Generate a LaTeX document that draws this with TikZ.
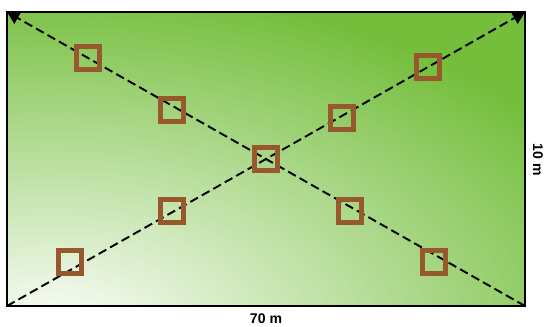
\documentclass[tikz,border=0pt]{standalone}
\usepackage{fontspec}
\setmainfont{Liberation Sans}
\usetikzlibrary{arrows.meta}

\definecolor{fieldgreen}{RGB}{116,190,60}
\definecolor{plotbrown}{RGB}{150,88,44}

\begin{document}
\begin{tikzpicture}[x=0.02cm, y=-0.02cm,
        plot/.style={draw=plotbrown, line width=2.8pt, minimum size=0.46cm, inner sep=0pt},
        diag/.style={dashed, dash pattern=on 5pt off 2.5pt, line width=1.1pt, -{Triangle[length=7pt, width=7.5pt]}},
        dim/.style={font=\fontsize{8}{9}\selectfont\bfseries, inner sep=0pt}]
        \useasboundingbox (0,0) rectangle (545,327);

        % Field corners
        \coordinate (sw) at (7,306);
        \coordinate (se) at (525,306);
        \coordinate (nw) at (7,12);
        \coordinate (ne) at (525,12);

        % Draw the field with its shading
        \fill[fieldgreen] (sw) rectangle (ne);
        \begin{scope}
            \clip (sw) rectangle (ne);
            \shade[inner color=white, outer color=fieldgreen] (50,335) ellipse (620 and 350);
        \end{scope}
        \draw[line width=1.2pt] (sw) rectangle (ne);

        % Diagonals
        \draw[diag] (sw) -- (ne);
        \draw[diag] (se) -- (nw);

        % Sample plots
        \node[plot] (p1) at (88,58) {};
        \node[plot] (p2) at (172,110) {};
        \node[plot] (p3) at (266,159) {};
        \node[plot] (p4) at (342,118) {};
        \node[plot] (p5) at (428,67) {};
        \node[plot] (p6) at (172,211) {};
        \node[plot] (p7) at (70,262) {};
        \node[plot] (p8) at (350,211) {};
        \node[plot] (p9) at (434,262) {};

        % Dimensions
        \node[dim] (width) at (266,319) {70 m};
        \node[dim, rotate=-90] (height) at (538,160) {10 m};
\end{tikzpicture}
\end{document}
